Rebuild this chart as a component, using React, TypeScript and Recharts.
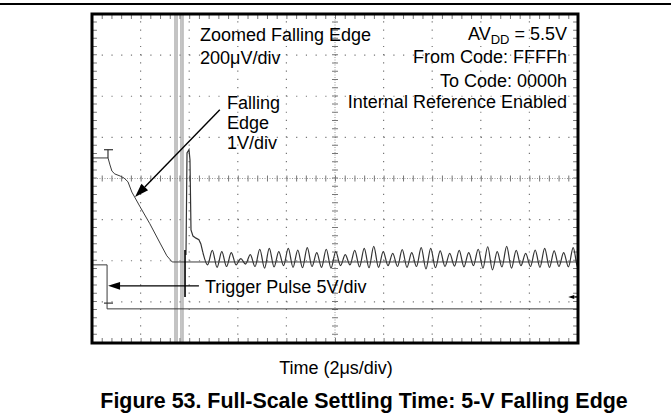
import { ComposedChart, Line, XAxis, YAxis, ReferenceLine } from 'recharts';

// scope screen: x in divisions (10 div, 2us/div), y in divisions (8 div)
const fallingEdgeX = [0, 0.33, 0.37, 0.41, 0.47, 0.58, 0.66, 0.74, 0.82, 0.99, 1.19, 1.4, 1.54, 1.65, 10];
const fallingEdgeY = [4.5, 4.5, 4.33, 4.18, 4.11, 4.06, 4.01, 3.92, 3.67, 3.31, 2.9, 2.43, 2.12, 1.97, 1.97];

const triggerX = [0, 0.31, 0.31, 10];
const triggerY = [1.9, 1.9, 0.83, 0.83];

// zoomed trace: saturated edge lines (off screen top to bottom)
const edgeX = [1.708, 1.708, 1.708, 1.749, 1.749, 1.749, 1.831, 1.831, 1.831, 1.872, 1.872];
const edgeY = [0, 8, null, 8, 0, null, 0, 8, null, 8, 0];

// zoomed trace: spike and start of decay
const spikeX = [1.934, 1.955, 1.996, 2.016, 2.037, 2.078, 2.14, 2.2, 2.24, 2.28];
const spikeY = [2.14, 4.62, 4.7, 4.45, 2.75, 2.6, 2.55, 2.51, 2.41, 2.21];

// ringing after settling (200uV/div), sampled at each half period
const ringStart = 2.28;
const ringStep = 0.0977;
const ringY = [2.21, 1.9,
  2.25, 1.84, 2.22, 1.86, 2.2, 1.9, 2.05, 1.92, 2.15, 1.86,
  2.28, 1.82, 2.3, 1.85, 2.22, 1.88, 2.3, 1.84, 2.26, 1.83,
  2.32, 1.86, 2.2, 1.84, 2.28, 1.82, 2.22, 1.88, 2.15, 1.9,
  2.25, 1.85, 2.3, 1.83, 2.35, 1.84, 2.22, 1.88, 2.18, 1.86,
  2.27, 1.84, 2.2, 1.86, 2.32, 1.8, 2.3, 1.83, 2.24, 1.86,
  2.18, 1.87, 2.25, 1.85, 2.2, 1.88, 2.28, 1.82, 2.34, 1.78,
  2.22, 1.85, 2.35, 1.82, 2.25, 1.88, 2.18, 1.86, 2.26, 1.84,
  2.3, 1.84, 2.24, 1.86, 2.2, 1.85, 2.32, 1.82, 2.22, 1.86];

const xGrid = [1, 2, 3, 4, 6, 7, 8, 9];
const yGrid = [1, 2, 3, 5, 6, 7];

const fallingEdge = fallingEdgeX.map((x, i) => ({ x, y: fallingEdgeY[i] }));
const trigger = triggerX.map((x, i) => ({ x, y: triggerY[i] }));
const edge = edgeX.map((x, i) => ({ x, y: edgeY[i] }));
const spike = spikeX.map((x, i) => ({ x, y: spikeY[i] }));
const ring = ringY.map((y, i) => ({ x: ringStart + i * ringStep, y }));

const font = '"Liberation Sans", Arial, sans-serif';

const arrow = (size: number) => (p: any) => {
  const { x1, y1, x2, y2 } = p;
  const a = Math.atan2(y2 - y1, x2 - x1);
  const hx = x2 - size * Math.cos(a);
  const hy = y2 - size * Math.sin(a);
  const w = size * 0.33;
  const pts = `${x2},${y2} ${hx + w * Math.sin(a)},${hy - w * Math.cos(a)} ${hx - w * Math.sin(a)},${hy + w * Math.cos(a)}`;
  return (
    <g>
      <line x1={x1} y1={y1} x2={hx} y2={hy} stroke="#000" strokeWidth={1.4} />
      <polygon points={pts} fill="#000" />
    </g>
  );
};

const App = () => {
  return (
    <div style={{ position: 'absolute', left: 0, top: 0, width: 671, height: 419, background: '#fff' }}>
      <div style={{ position: 'absolute', left: 0, top: 3, width: 671, height: 2, background: '#000' }} />
      <ComposedChart
        width={671}
        height={419}
        margin={{ top: 14, right: 93, left: 92, bottom: 76 }}
        style={{ position: 'absolute', left: 0, top: 0 }}
      >
        <XAxis dataKey="x" type="number" domain={[0, 10]} allowDataOverflow hide />
        <YAxis type="number" domain={[0, 8]} allowDataOverflow hide />

        {xGrid.map((v) => (
          <ReferenceLine key={'x' + v} x={v} stroke="#777" strokeWidth={1.2} strokeDasharray="1.2 7.02" />
        ))}
        {yGrid.map((v) => (
          <ReferenceLine key={'y' + v} y={v} stroke="#777" strokeWidth={1.2} strokeDasharray="1.2 8.52" />
        ))}
        <ReferenceLine x={5} stroke="#999" strokeWidth={1} strokeDasharray="1 1.5" />
        <ReferenceLine x={5} stroke="#777" strokeWidth={6} strokeDasharray="1 7.22" />
        <ReferenceLine y={4} stroke="#999" strokeWidth={1} strokeDasharray="1 1.5" />
        <ReferenceLine y={4} stroke="#777" strokeWidth={6} strokeDasharray="1 8.72" />
        <ReferenceLine x={0.06} stroke="#777" strokeWidth={4} strokeDasharray="1 7.22" />
        <ReferenceLine x={9.94} stroke="#777" strokeWidth={4} strokeDasharray="1 7.22" />
        <ReferenceLine y={0.07} stroke="#777" strokeWidth={4} strokeDasharray="1 8.72" />
        <ReferenceLine y={7.93} stroke="#777" strokeWidth={4} strokeDasharray="1 8.72" />

        <Line data={edge} dataKey="y" type="linear" stroke="#888" strokeWidth={1} dot={false} isAnimationActive={false} />
        <Line data={spike} dataKey="y" type="linear" stroke="#333" strokeWidth={1.2} dot={false} isAnimationActive={false} />
        <Line data={ring} dataKey="y" type="monotone" stroke="#333" strokeWidth={1.2} dot={false} isAnimationActive={false} />
        <Line data={fallingEdge} dataKey="y" type="linear" stroke="#3a3a3a" strokeWidth={1} dot={false} isAnimationActive={false} />
        <Line data={trigger} dataKey="y" type="linear" stroke="#3a3a3a" strokeWidth={1} dot={false} isAnimationActive={false} />

        {/* cursors */}
        <ReferenceLine segment={[{ x: 0.247, y: 4.7 }, { x: 0.432, y: 4.7 }]} stroke="#333" strokeWidth={1.2} />
        <ReferenceLine segment={[{ x: 0.329, y: 4.7 }, { x: 0.329, y: 4.5 }]} stroke="#333" strokeWidth={1.2} />
        <ReferenceLine segment={[{ x: 0.247, y: 0.97 }, { x: 0.432, y: 0.97 }]} stroke="#333" strokeWidth={1.2} />
        <ReferenceLine segment={[{ x: 1.914, y: 2.26 }, { x: 1.914, y: 1.12 }]} stroke="#000" strokeWidth={1.6} />

        {/* annotation arrows */}
        <ReferenceLine segment={[{ x: 2.63, y: 5.67 }, { x: 0.885, y: 3.55 }]} ifOverflow="visible" shape={arrow(14)} />
        <ReferenceLine segment={[{ x: 2.2, y: 1.39 }, { x: 0.33, y: 1.39 }]} ifOverflow="visible" shape={arrow(12)} />
        <ReferenceLine segment={[{ x: 10, y: 1.12 }, { x: 9.8, y: 1.12 }]} ifOverflow="visible" shape={arrow(6)} />
      </ComposedChart>

      <svg width={671} height={419} style={{ position: 'absolute', left: 0, top: 0, pointerEvents: 'none' }}>
        <rect x={92} y={14} width={486} height={329} fill="none" stroke="#000" strokeWidth={3} />
        <g fontFamily={font} fontSize={18} fill="#000">
          <text x={200} y={41}>Zoomed Falling Edge</text>
          <text x={200} y={64}>200μV/div</text>
          <text x={567} y={40} textAnchor="end">
            AV<tspan dy={4} fontSize={13}>DD</tspan><tspan dy={-4}> = 5.5V</tspan>
          </text>
          <text x={567} y={63} textAnchor="end">From Code: FFFFh</text>
          <text x={567} y={87} textAnchor="end">To Code: 0000h</text>
          <text x={567} y={108} textAnchor="end">Internal Reference Enabled</text>
          <text x={227} y={109}>Falling</text>
          <text x={227} y={129}>Edge</text>
          <text x={227} y={149}>1V/div</text>
          <text x={205} y={293}>Trigger Pulse 5V/div</text>
        </g>
        <text x={336} y={374} textAnchor="middle" fontFamily={font} fontSize={18} fill="#000">Time (2μs/div)</text>
        <text x={364} y={408} textAnchor="middle" fontFamily={font} fontSize={21.4} fontWeight="bold" fill="#000">
          Figure 53. Full-Scale Settling Time: 5-V Falling Edge
        </text>
      </svg>
    </div>
  );
};

export default App;
